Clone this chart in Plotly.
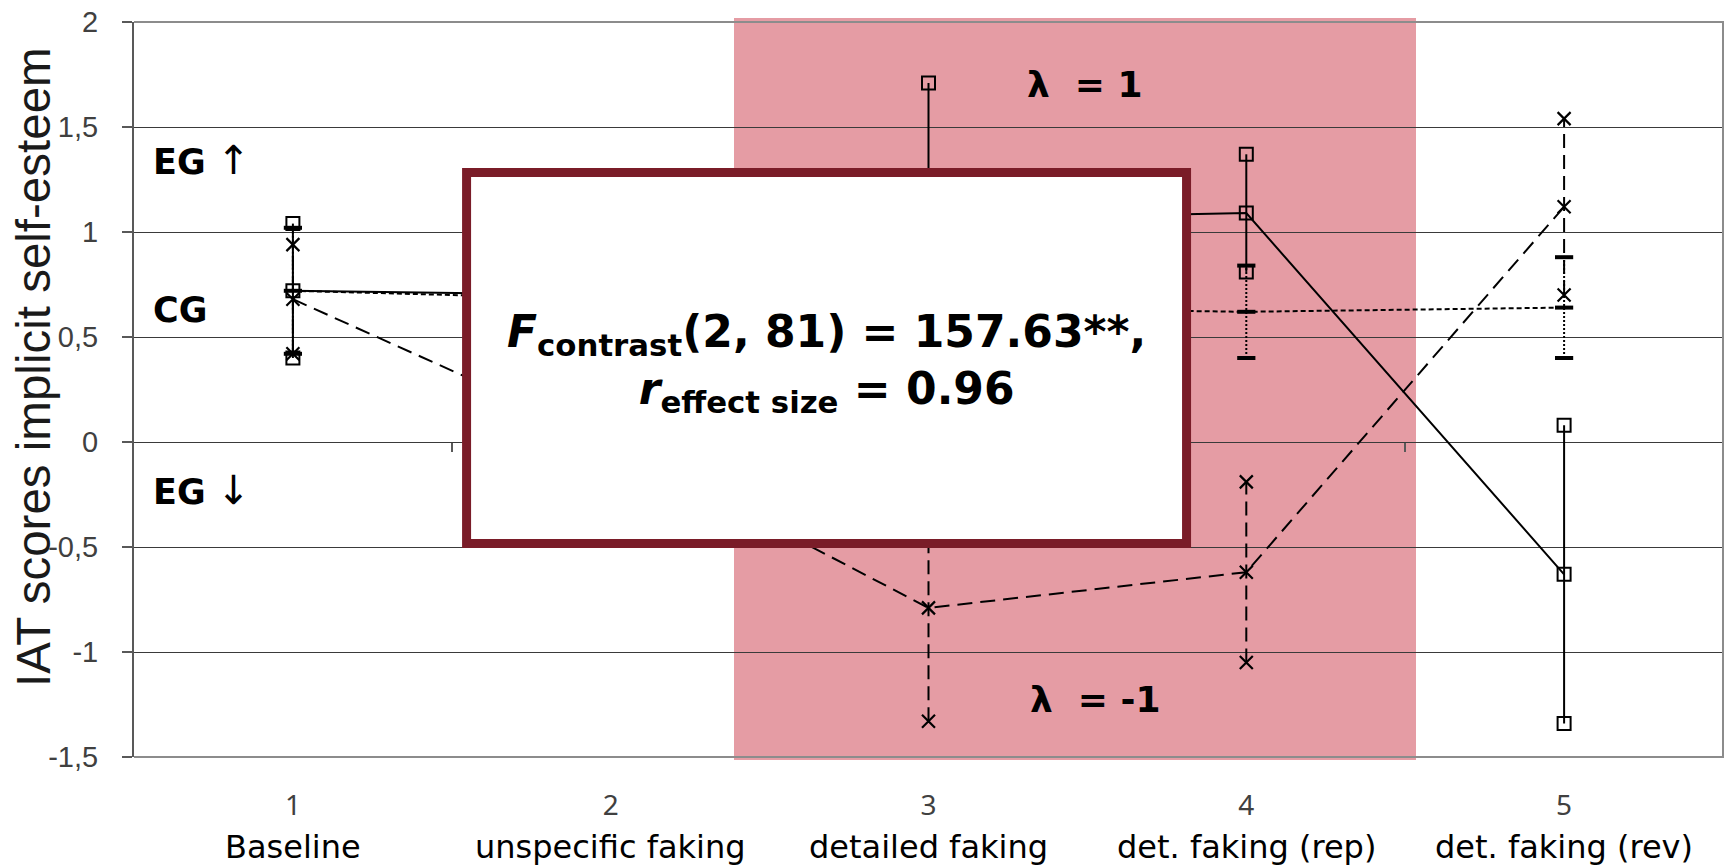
import plotly.graph_objects as go

# Measurement occasions
occasion_no = ["1", "2", "3", "4", "5"]
occasion_names = ["Baseline", "unspecific faking", "detailed faking",
                  "det. faking (rep)", "det. faking (rev)"]
x_pos = [1, 2, 3, 4, 5]

# Group means and error-bar half lengths (IAT D scores)
eg_up_mean = [0.72, 0.70, 1.06, 1.09, -0.63]     # EG ↑ (solid, squares)
eg_up_err = [0.32, 0.30, 0.65, 0.28, 0.71]
cg_mean = [0.72, 0.68, 0.64, 0.62, 0.64]         # CG (dotted, dash caps)
cg_err = [0.30, 0.30, 0.30, 0.22, 0.24]
eg_down_mean = [0.68, 0.00, -0.79, -0.62, 1.12]  # EG ↓ (dashed, crosses)
eg_down_err = [0.26, 0.30, 0.54, 0.43, 0.42]

y_ticks = [-1.5, -1, -0.5, 0, 0.5, 1, 1.5, 2]
y_tick_text = ["-1,5", "-1", "-0,5", "0", "0,5", "1", "1,5", "2"]
y_min, y_max = -1.5, 2.0
x_min, x_max = 0.5, 5.5
boundary_ticks = [1.5, 2.5, 3.5, 4.5, 5.5]

BLACK = "#000000"
PINK = "#E59CA4"
FRAME_RED = "#7A1C28"


def whiskers(xs, means, errs):
    wx, wy = [], []
    for x, m, e in zip(xs, means, errs):
        wx += [x, x, None]
        wy += [m - e, m + e, None]
    return wx, wy


def ends(xs, means, errs):
    ex, ey = [], []
    for x, m, e in zip(xs, means, errs):
        ex += [x, x]
        ey += [m - e, m + e]
    return ex, ey


fig = go.Figure()

series = [
    ("CG", cg_mean, cg_err, "5px,3px", "2px,2px",
     dict(symbol="line-ew", size=13, color=BLACK,
          line=dict(width=4, color=BLACK))),
    ("EG ↓", eg_down_mean, eg_down_err, "15px,8px", "14px,7px",
     dict(symbol="x-thin-open", size=13, color=BLACK,
          line=dict(width=2.2, color=BLACK))),
    ("EG ↑", eg_up_mean, eg_up_err, "solid", "solid",
     dict(symbol="square-open", size=13, color=BLACK,
          line=dict(width=2, color=BLACK))),
]

for name, means, errs, dash, err_dash, marker in series:
    wx, wy = whiskers(x_pos, means, errs)
    fig.add_trace(go.Scatter(x=wx, y=wy, mode="lines", name=name + " SD",
                             line=dict(color=BLACK, width=2, dash=err_dash),
                             hoverinfo="skip", showlegend=False))
    fig.add_trace(go.Scatter(x=x_pos, y=means, mode="lines+markers", name=name,
                             line=dict(color=BLACK, width=2, dash=dash),
                             marker=marker, showlegend=False))
    ex, ey = ends(x_pos, means, errs)
    fig.add_trace(go.Scatter(x=ex, y=ey, mode="markers", name=name + " bounds",
                             marker=marker, hoverinfo="skip", showlegend=False))

# helper trace so the category-boundary ticks on the zero line get drawn
fig.add_trace(go.Scatter(x=boundary_ticks, y=[0] * len(boundary_ticks),
                         xaxis="x2", yaxis="y", mode="markers",
                         marker=dict(opacity=0), hoverinfo="skip",
                         showlegend=False))

zero_pos = (0 - y_min) / (y_max - y_min)

fig.update_layout(
    width=1725, height=866,
    margin=dict(l=134, r=2, t=22, b=109, pad=0),
    paper_bgcolor="white",
    plot_bgcolor="rgba(0,0,0,0)",
    showlegend=False,
    xaxis=dict(range=[x_min, x_max], tickvals=x_pos, ticktext=occasion_no,
               showgrid=False, zeroline=False, showline=False, ticks="",
               tickfont=dict(family="Noto Sans", size=28, color="#404040"),
               ticklabelstandoff=29),
    xaxis2=dict(range=[x_min, x_max], overlaying="x", anchor="free",
                position=zero_pos, tickvals=boundary_ticks, ticks="outside",
                ticklen=9, tickwidth=1.5, tickcolor="#595959",
                showticklabels=False, showgrid=False, zeroline=False,
                showline=False),
    yaxis=dict(range=[y_min, y_max], tickvals=y_ticks, ticktext=y_tick_text,
               showgrid=True, gridcolor="#3a3a3a", gridwidth=1,
               zeroline=False, showline=True, linecolor="#595959",
               linewidth=2, ticks="outside", ticklen=10, tickwidth=1.5,
               tickcolor="#595959",
               tickfont=dict(family="Liberation Sans", size=29, color="#404040"),
               ticklabelstandoff=18),
)

shapes = [
    # shaded contrast region (occasions 3 and 4)
    dict(type="rect", xref="paper", yref="paper", x0=0.3776, x1=0.8068,
         y0=-0.004, y1=1.0054, fillcolor=PINK, line=dict(width=0),
         layer="below"),
    # plot frame: top, right and bottom edges
    dict(type="path", xref="paper", yref="paper",
         path="M 0,1 L 1,1 L 1,0 L 0,0", fillcolor="rgba(0,0,0,0)",
         line=dict(color="#8c8c8c", width=2), layer="above"),
    # statistics box
    dict(type="rect", xref="paper", yref="paper", x0=0.2093, x1=0.6624,
         y0=0.2905, y1=0.7952, fillcolor="white",
         line=dict(color=FRAME_RED, width=9), layer="above"),
]
fig.update_layout(shapes=shapes)

label_font = dict(family="DejaVu Sans", size=35, color=BLACK)
annotations = [
    dict(text="<b>EG</b> <span style='font-size:40px'>↑</span>",
         x=0.011, y=0.8122, xanchor="left"),
    dict(text="<b>CG</b>", x=0.011, y=0.6082, xanchor="left"),
    dict(text="<b>EG</b> <span style='font-size:40px'>↓</span>",
         x=0.011, y=0.3633, xanchor="left"),
]
for a in annotations:
    a.update(xref="paper", yref="paper", yanchor="middle", showarrow=False,
             font=label_font)

lambda_font = dict(family="DejaVu Sans", size=36, color=BLACK)
annotations += [
    dict(text="<b>λ\u00a0 = 1</b>", x=0.5607, y=0.9156, xref="paper",
         yref="paper", xanchor="left", yanchor="middle", showarrow=False,
         font=lambda_font),
    dict(text="<b>λ\u00a0 = -1</b>", x=0.5626, y=0.0776, xref="paper",
         yref="paper", xanchor="left", yanchor="middle", showarrow=False,
         font=lambda_font),
    dict(text="<b><i>F</i><sub>contrast</sub>(2, 81) = 157.63**,<br>"
              "<i>r</i><sub>effect size</sub> = 0.96</b>",
         x=0.4361, y=0.536, xref="paper", yref="paper", xanchor="center",
         yanchor="middle", showarrow=False, align="center",
         font=dict(family="DejaVu Sans", size=44, color=BLACK)),
    dict(text="IAT scores implicit self-esteem", textangle=-90,
         x=0, y=0.5306, xref="paper", yref="paper", xanchor="center",
         yanchor="middle", xshift=-101, showarrow=False,
         font=dict(family="Liberation Sans", size=47.5, color="#1a1a1a")),
]

for xv, nm in zip(x_pos, occasion_names):
    annotations.append(dict(text=nm, x=xv, y=0, xref="x", yref="paper",
                            xanchor="center", yanchor="middle", yshift=-90,
                            showarrow=False,
                            font=dict(family="DejaVu Sans", size=32,
                                      color=BLACK)))

fig.update_layout(annotations=annotations)

fig.write_html("out.html")
